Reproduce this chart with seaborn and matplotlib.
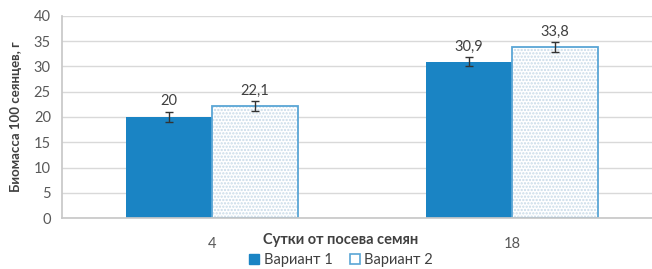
import matplotlib
matplotlib.use("Agg")
import matplotlib.pyplot as plt
import seaborn as sns
import pandas as pd
from matplotlib.patches import Rectangle, Patch

# ---- data ----
days = ["4", "18"]
variants = ["Вариант 1", "Вариант 2"]
variant1 = [20.0, 30.9]
variant2 = [22.1, 33.8]
err1 = [1.0, 0.9]
err2 = [1.0, 1.0]
yticks = [0, 5, 10, 15, 20, 25, 30, 35, 40]
ylabel = "Биомасса 100 сеянцев, г"
xlabel = "Сутки от посева семян"

df = pd.DataFrame({
    "day": days * 2,
    "variant": [variants[0]] * 2 + [variants[1]] * 2,
    "value": variant1 + variant2,
})
errs = err1 + err2

sns.set_theme(style="white")
plt.rcParams["font.family"] = ["Lato", "DejaVu Sans"]
plt.rcParams["hatch.linewidth"] = 1.1

BLUE = "#1a84c4"
EDGE2 = "#5aa6d6"
DOT = "#c8dae8"
GRID = "#d9d9d9"
TXT = "#404040"
TICK = "#595959"

fig = plt.figure(figsize=(6.52, 2.69), dpi=100)
ax = fig.add_axes([62 / 652, 1 - 218 / 269, 600 / 652, 202 / 269])

sns.barplot(data=df, x="day", y="value", hue="variant", order=days,
            hue_order=variants, palette=[BLUE, "white"], width=0.573,
            dodge=True, gap=0, errorbar=None, ax=ax, saturation=1,
            edgecolor="none", linewidth=0)

# style bars
bars = []
for ci, cont in enumerate(ax.containers):
    for p in cont.patches:
        bars.append(p)
        if ci == 1:
            p.set_facecolor("white")
            p.set_edgecolor(DOT)
            p.set_hatch(".....")
            p.set_linewidth(0)
            outline = Rectangle(p.get_xy(), p.get_width(), p.get_height(),
                                fill=False, edgecolor=EDGE2, linewidth=1.3,
                                zorder=p.get_zorder() + 0.1)
            ax.add_patch(outline)

# error bars + value labels
for p, v, e in zip(bars, df["value"], errs):
    cx = p.get_x() + p.get_width() / 2
    ax.errorbar(cx, v, yerr=e, fmt="none", ecolor="#333333", elinewidth=1,
                capsize=3, capthick=1, zorder=5)
    ax.annotate(f"{v:g}".replace(".", ","), xy=(cx, v + e), xytext=(0, 2.5),
                textcoords="offset points", ha="center", va="bottom",
                fontsize=10.5, color=TXT)

ax.set_xlim(-0.5, 1.5)
ax.set_ylim(0, 40)
ax.set_yticks(yticks)
ax.yaxis.grid(True, color=GRID, linewidth=1)
ax.set_axisbelow(True)
for s in ["top", "right"]:
    ax.spines[s].set_visible(False)
ax.spines["left"].set_color("#c8c8c8")
ax.spines["bottom"].set_color("#c8c8c8")
ax.tick_params(axis="y", length=5, color="#c8c8c8", labelsize=10.5, labelcolor=TICK, pad=3)
ax.tick_params(axis="x", length=0, labelsize=10.5, labelcolor=TICK, pad=14)

ax.set_ylabel(ylabel, fontsize=9.5, fontweight="bold", color=TXT)
ax.yaxis.set_label_coords(-40 / 600, 0.5)
ax.set_xlabel(xlabel, fontsize=10.5, fontweight="bold", color=TXT)
ax.xaxis.set_label_coords((341 - 62) / 600, -15 / 202)
ax.xaxis.label.set_va("top")

if ax.get_legend() is not None:
    ax.get_legend().remove()
handles = [Patch(facecolor=BLUE, edgecolor=BLUE),
           Patch(facecolor="white", edgecolor=EDGE2, linewidth=1.2)]
fig.legend(handles, variants, loc="center", bbox_to_anchor=(341 / 652, 1 - 260 / 269),
           ncol=2, frameon=False, fontsize=10.5, labelcolor=TXT, handlelength=0.7,
           handleheight=0.7, handletextpad=0.3, columnspacing=1.2, borderpad=0)

fig.savefig("out.png", dpi=100)
